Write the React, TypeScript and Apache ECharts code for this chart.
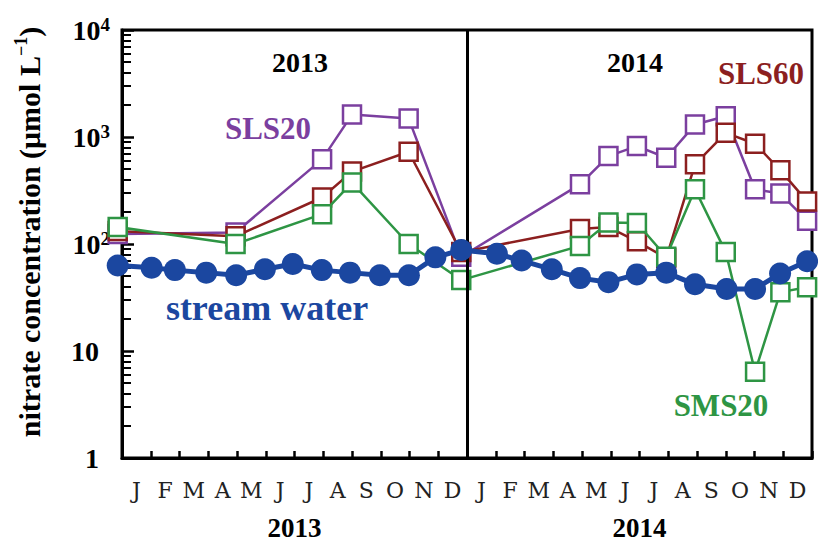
import React, { useEffect, useRef } from 'react';
import * as echarts from 'echarts';

const monthLabels = ['J', 'F', 'M', 'A', 'M', 'J', 'J', 'A', 'S', 'O', 'N', 'D', 'J', 'F', 'M', 'A', 'M', 'J', 'J', 'A', 'S', 'O', 'N', 'D'];
const yearLabels = ['2013', '2014'];

// month position (0 = start of Jan 2013)
const streamMonths = [-0.15, 1.03, 1.84, 2.93, 3.97, 4.97, 5.94, 6.95, 7.93, 8.97, 9.98, 10.9, 11.8, 13.04, 13.9, 14.95, 15.93, 16.92, 17.91, 18.93, 19.93, 21.03, 22.02, 22.89, 23.83];
const streamWater = [63, 60, 57, 54, 51, 58, 65, 57, 54, 51, 51, 75, 88, 81, 70, 58, 48, 44, 52, 54, 42, 38, 38, 53, 69];

const sampleMonths = [-0.15, 3.95, 6.96, 8.0, 9.97, 11.8, 15.93, 16.92, 17.91, 18.93, 19.93, 21.0, 22.02, 22.9, 23.83];
const sls20 = [124, 128, 618, 1619, 1486, 76, 361, 663, 822, 640, 1307, 1562, 325, 296, 165];
const sls60 = [132, 118, 272, 475, 728, 84, 138, 144, 106, 74, 555, 1094, 865, 488, 250];
const sms20 = [144, 100, 190, 375, 100, 46, 96, 159, 157, 76, 325, 84, 6.4, 35.5, 39.5];

const pair = (xs: number[], ys: number[]) => xs.map((x, i) => [x, ys[i]]);

const PURPLE = '#7b3f9f';
const RED = '#8c1f1f';
const GREEN = '#2e9544';
const BLUE = '#1b47a0';
const SERIF = '"Liberation Serif", "Times New Roman", serif';

export default function App() {
  const ref = useRef<HTMLDivElement>(null);
  useEffect(() => {
    const chart = echarts.init(ref.current!, null, { renderer: 'svg' });

    const squareSeries = (name: string, vals: number[], color: string, z: number) => ({
      type: 'line',
      name,
      data: pair(sampleMonths, vals),
      symbol: 'rect',
      symbolSize: 18,
      showAllSymbol: true,
      clip: false,
      z,
      itemStyle: { color: '#ffffff', borderColor: color, borderWidth: 2.5 },
      lineStyle: { color, width: 2.5 },
    });

    const txt = (text: string, x: number, y: number, color: string, size: number) => ({
      type: 'text',
      x,
      y,
      z: 100,
      style: {
        text,
        fill: color,
        font: `bold ${size}px ${SERIF}`,
        align: 'center',
        verticalAlign: 'middle',
        textAlign: 'center',
        textVerticalAlign: 'middle',
      },
    });

    chart.setOption({
      animation: false,
      backgroundColor: '#ffffff',
      grid: {
        left: 122,
        top: 30,
        width: 690,
        height: 428,
        containLabel: false,
        outerBoundsMode: 'none',
        show: true,
        borderColor: '#000',
        borderWidth: 3,
        backgroundColor: 'transparent',
      },
      xAxis: [
        {
          type: 'value',
          min: 0,
          max: 24,
          interval: 1,
          position: 'bottom',
          axisLine: { show: true, lineStyle: { color: '#000', width: 3 } },
          axisTick: { show: true, inside: true, length: 7, lineStyle: { color: '#000', width: 2.5 } },
          axisLabel: { show: false },
          splitLine: { show: false },
        },
        {
          type: 'category',
          data: monthLabels,
          position: 'bottom',
          boundaryGap: true,
          axisLine: { show: false },
          axisTick: { show: false },
          axisLabel: {
            interval: 0,
            margin: 21,
            fontSize: 22,
            fontFamily: '"DejaVu Serif", serif',
            color: '#222',
          },
        },
        {
          type: 'category',
          data: yearLabels,
          position: 'bottom',
          boundaryGap: true,
          axisLine: { show: false },
          axisTick: { show: false },
          axisLabel: {
            interval: 0,
            margin: 56,
            fontSize: 27,
            fontWeight: 'bold',
            fontFamily: SERIF,
            color: '#000',
          },
        },
      ],
      yAxis: {
        type: 'log',
        logBase: 10,
        min: 1,
        max: 10000,
        name: 'nitrate concentration (μmol L{sup|−1})',
        nameLocation: 'middle',
        nameGap: 76,
        nameRotate: 90,
        nameTextStyle: {
          fontSize: 30,
          fontWeight: 'bold',
          fontFamily: SERIF,
          color: '#000',
          lineHeight: 34,
          padding: [0, 0, 0, 24],
          rich: {
            sup: { fontSize: 18, fontWeight: 'bold', fontFamily: SERIF, color: '#000', verticalAlign: 'top', lineHeight: 34 },
          },
        },
        axisLine: { show: true, lineStyle: { color: '#000', width: 3 } },
        axisTick: { show: true, inside: true, length: 12, lineStyle: { color: '#000', width: 2.5 } },
        minorTick: { show: true, splitNumber: 9, length: 9, lineStyle: { color: '#000', width: 2 } },
        splitLine: { show: false },
        minorSplitLine: { show: false },
        axisLabel: {
          margin: 12,
          fontSize: 28,
          fontWeight: 'bold',
          fontFamily: SERIF,
          color: '#000',
          lineHeight: 30,
          formatter: (v: number) => {
            const e = Math.round(Math.log10(v));
            if (e === 0) return '{b|1}';
            if (e === 1) return '{b|10}';
            return '10{sup|' + e + '}';
          },
          rich: {
            sup: { fontSize: 19, fontWeight: 'bold', fontFamily: SERIF, color: '#000', verticalAlign: 'top', lineHeight: 30 },
            b: { fontSize: 28, fontWeight: 'bold', fontFamily: SERIF, color: '#000', lineHeight: 30, padding: [0, 11, 0, 0] },
          },
        },
      },
      series: [
        {
          ...squareSeries('SLS20', sls20, PURPLE, 2),
          markLine: {
            silent: true,
            symbol: 'none',
            label: { show: false },
            lineStyle: { color: '#000', width: 3, type: 'solid' },
            data: [{ xAxis: 12 }],
          },
        },
        squareSeries('SLS60', sls60, RED, 3),
        squareSeries('SMS20', sms20, GREEN, 4),
        {
          type: 'line',
          name: 'stream water',
          data: pair(streamMonths, streamWater),
          symbol: 'circle',
          symbolSize: 22,
          showAllSymbol: true,
          clip: false,
          z: 6,
          itemStyle: { color: BLUE },
          lineStyle: { color: BLUE, width: 5 },
        },
      ],
      graphic: [
        txt('2013', 300, 62, '#000', 28),
        txt('2014', 635, 62, '#000', 28),
        txt('SLS20', 268, 128, PURPLE, 31),
        txt('SLS60', 761, 73, RED, 31),
        txt('SMS20', 721, 405, GREEN, 31),
        txt('stream water', 267, 308, BLUE, 36),
      ],
    });

    return () => chart.dispose();
  }, []);

  return <div ref={ref} style={{ position: 'absolute', left: 0, top: 0, width: 818, height: 551 }} />;
}
